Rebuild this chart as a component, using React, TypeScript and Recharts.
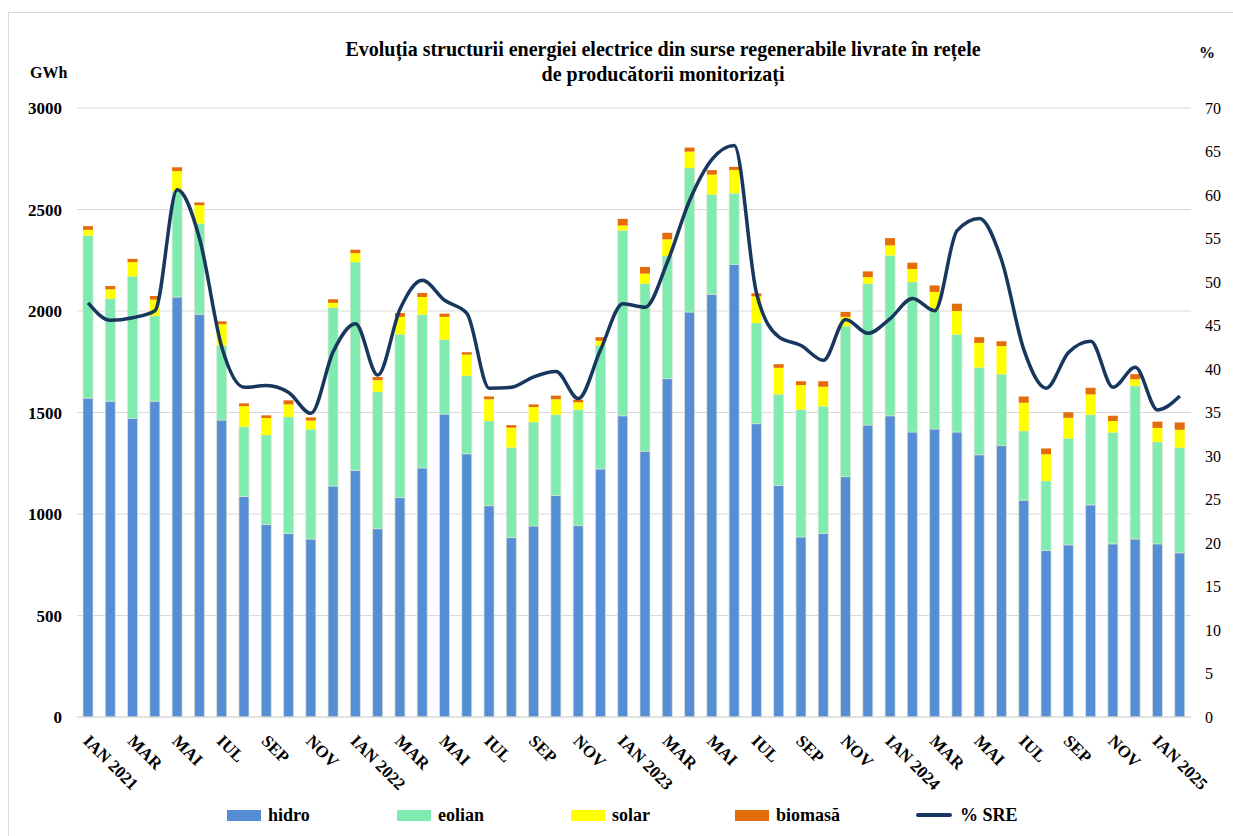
import React from 'react';
import { ComposedChart, Bar, Line, XAxis, YAxis, CartesianGrid } from 'recharts';

const months = [
  'IAN 2021', 'FEB 2021', 'MAR 2021', 'APR 2021', 'MAI 2021', 'IUN 2021', 'IUL 2021', 'AUG 2021', 'SEP 2021', 'OCT 2021', 'NOV 2021', 'DEC 2021',
  'IAN 2022', 'FEB 2022', 'MAR 2022', 'APR 2022', 'MAI 2022', 'IUN 2022', 'IUL 2022', 'AUG 2022', 'SEP 2022', 'OCT 2022', 'NOV 2022', 'DEC 2022',
  'IAN 2023', 'FEB 2023', 'MAR 2023', 'APR 2023', 'MAI 2023', 'IUN 2023', 'IUL 2023', 'AUG 2023', 'SEP 2023', 'OCT 2023', 'NOV 2023', 'DEC 2023',
  'IAN 2024', 'FEB 2024', 'MAR 2024', 'APR 2024', 'MAI 2024', 'IUN 2024', 'IUL 2024', 'AUG 2024', 'SEP 2024', 'OCT 2024', 'NOV 2024', 'DEC 2024',
  'IAN 2025', 'FEB 2025',
];

const hidro = [1571, 1556, 1471, 1556, 2069, 1984, 1463, 1086, 948, 904, 877, 1138, 1215, 928, 1081, 1227, 1492, 1297, 1041, 884, 941, 1091, 943, 1222, 1484, 1309, 1667, 1995, 2082, 2230, 1445, 1141, 887, 904, 1184, 1438, 1484, 1404, 1419, 1404, 1292, 1337, 1068, 820, 848, 1045, 853, 877, 853, 809];
const eolian = [801, 505, 700, 420, 521, 446, 367, 344, 441, 574, 540, 879, 1026, 674, 804, 755, 367, 384, 417, 444, 512, 398, 571, 609, 913, 826, 604, 710, 492, 350, 496, 449, 627, 627, 741, 697, 790, 739, 588, 481, 430, 352, 341, 343, 525, 444, 549, 754, 502, 518];
const solar = [28, 46, 70, 80, 99, 91, 105, 101, 84, 62, 43, 23, 44, 57, 86, 87, 112, 104, 107, 97, 74, 76, 36, 22, 24, 49, 82, 80, 98, 115, 131, 130, 121, 96, 46, 32, 49, 64, 87, 115, 121, 138, 139, 131, 101, 100, 56, 33, 69, 88];
const biomasa = [18, 16, 16, 18, 19, 14, 14, 14, 13, 20, 16, 18, 17, 16, 19, 20, 16, 12, 14, 13, 13, 18, 13, 18, 33, 33, 32, 20, 22, 15, 15, 18, 19, 27, 24, 28, 36, 31, 32, 36, 28, 24, 31, 29, 27, 33, 26, 25, 31, 36];
const sre = [47.6, 45.6, 45.9, 46.7, 60.6, 55.0, 42.5, 37.9, 38.1, 37.3, 34.9, 42.0, 45.2, 39.3, 46.9, 50.2, 47.9, 46.4, 37.8, 37.9, 39.1, 39.7, 36.6, 42.2, 47.5, 47.1, 52.3, 59.4, 64.1, 65.7, 48.7, 43.7, 42.7, 41.0, 45.7, 44.1, 45.8, 48.1, 46.7, 55.9, 57.3, 52.5, 42.2, 37.8, 41.9, 43.2, 37.9, 40.2, 35.3, 36.9];

const leftTicks = [0, 500, 1000, 1500, 2000, 2500, 3000];
const rightTicks = [0, 5, 10, 15, 20, 25, 30, 35, 40, 45, 50, 55, 60, 65, 70];

const title1 = 'Evoluția structurii energiei electrice din surse regenerabile livrate în rețele';
const title2 = 'de producătorii monitorizați';

const data = months.map((m, i) => ({
  month: m,
  hidro: hidro[i],
  eolian: eolian[i],
  solar: solar[i],
  biomasa: biomasa[i],
  sre: sre[i],
}));

const COLORS = {
  hidro: '#558ED5',
  eolian: '#7FEBB1',
  solar: '#FFFF00',
  biomasa: '#E46C0A',
  sre: '#17375E',
};

const FONT = '"Liberation Serif", "Times New Roman", serif';

const fmtMonth = (m: string) => (m.startsWith('IAN') ? m : m.split(' ')[0]);

const XTick = (props: any) => {
  const { x, y, payload } = props;
  const tx = x - 6;
  const ty = y + 17;
  return (
    <text
      x={tx}
      y={ty}
      transform={`rotate(45 ${tx} ${ty})`}
      textAnchor="start"
      fontFamily={FONT}
      fontWeight="bold"
      fontSize={17}
      fill="#000"
    >
      {fmtMonth(payload.value)}
    </text>
  );
};

const legendItems = [
  { label: 'hidro', color: COLORS.hidro, x: 227, type: 'box' },
  { label: 'eolian', color: COLORS.eolian, x: 397, type: 'box' },
  { label: 'solar', color: COLORS.solar, x: 571, type: 'box' },
  { label: 'biomasă', color: COLORS.biomasa, x: 735, type: 'box' },
  { label: '% SRE', color: COLORS.sre, x: 916, type: 'line' },
];

export default function App() {
  return (
    <div style={{ position: 'absolute', left: 0, top: 0, width: 1233, height: 836, background: '#fff', fontFamily: FONT }}>
      <div style={{ position: 'absolute', left: 8, top: 12, width: 1230, height: 830, borderLeft: '1px solid #d9d9d9', borderTop: '1px solid #d9d9d9' }} />
      <div style={{ position: 'absolute', left: 0, top: 37, width: 1326, textAlign: 'center', fontWeight: 'bold', fontSize: 20, lineHeight: '25px', color: '#000' }}>
        <div>{title1}</div>
        <div>{title2}</div>
      </div>
      <div style={{ position: 'absolute', left: 30, top: 64, fontWeight: 'bold', fontSize: 16, color: '#000' }}>GWh</div>
      <div style={{ position: 'absolute', left: 1199, top: 44, fontWeight: 'bold', fontSize: 16, color: '#000' }}>%</div>
      <ComposedChart
        width={1233}
        height={836}
        data={data}
        margin={{ top: 108, right: 7, bottom: 39, left: 17 }}
        barSize={10}
        style={{ position: 'absolute', left: 0, top: 0 }}
      >
        <CartesianGrid horizontal vertical={false} stroke="#d9d9d9" strokeWidth={1} yAxisId="left" />
        <XAxis
          dataKey="month"
          interval={1}
          tick={<XTick />}
          tickLine={false}
          axisLine={{ stroke: '#d9d9d9' }}
          height={80}
        />
        <YAxis
          yAxisId="left"
          orientation="left"
          domain={[0, 3000]}
          ticks={leftTicks}
          width={60}
          axisLine={false}
          tickLine={false}
          tickSize={6}
          tickMargin={9}
          tick={{ fontFamily: FONT, fontWeight: 'bold', fontSize: 17, fill: '#000' }}
        />
        <YAxis
          yAxisId="right"
          orientation="right"
          domain={[0, 70]}
          ticks={rightTicks}
          width={35}
          axisLine={false}
          tickLine={false}
          tickSize={6}
          tickMargin={8}
          tick={{ fontFamily: FONT, fontSize: 16, fill: '#000' }}
        />
        <Bar yAxisId="left" dataKey="hidro" stackId="a" fill={COLORS.hidro} stroke="#dbe5cf" strokeWidth={0.7} isAnimationActive={false} />
        <Bar yAxisId="left" dataKey="eolian" stackId="a" fill={COLORS.eolian} stroke="#dbe5cf" strokeWidth={0.7} isAnimationActive={false} />
        <Bar yAxisId="left" dataKey="solar" stackId="a" fill={COLORS.solar} isAnimationActive={false} />
        <Bar yAxisId="left" dataKey="biomasa" stackId="a" fill={COLORS.biomasa} isAnimationActive={false} />
        <Line yAxisId="right" dataKey="sre" type="monotone" stroke={COLORS.sre} strokeWidth={3.5} dot={false} activeDot={false} isAnimationActive={false} />
      </ComposedChart>
      {legendItems.map((it) => (
        <div key={it.label} style={{ position: 'absolute', left: it.x, top: 804, height: 22, display: 'flex', alignItems: 'center', fontWeight: 'bold', fontSize: 18, color: '#000', whiteSpace: 'nowrap' }}>
          {it.type === 'box' ? (
            <span style={{ display: 'inline-block', width: 34, height: 11, background: it.color, marginRight: 7 }} />
          ) : (
            <span style={{ display: 'inline-block', width: 36, height: 4, background: it.color, marginRight: 8, borderRadius: 2 }} />
          )}
          <span>{it.label}</span>
        </div>
      ))}
    </div>
  );
}
